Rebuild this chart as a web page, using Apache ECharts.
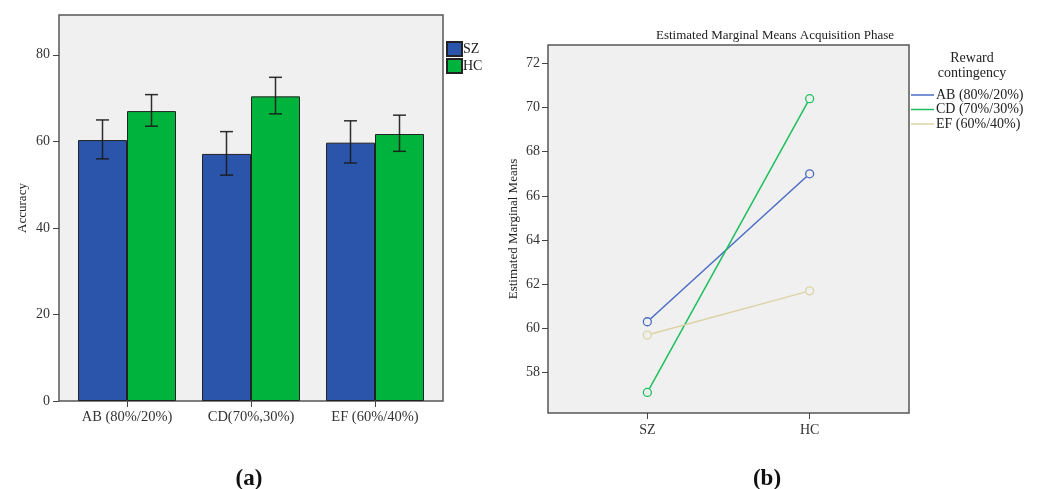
<!DOCTYPE html>
<html><head><meta charset="utf-8">
<script src="https://cdn.jsdelivr.net/npm/echarts@6/dist/echarts.min.js"></script>
<style>html,body{margin:0;padding:0;background:#fff}#c{width:1037px;height:489px}</style>
</head><body><div id="c"></div>
<script>
// ---------- data ----------
const barCategories = ['AB (80%/20%)', 'CD(70%,30%)', 'EF (60%/40%)'];
const szMeans = [60.3, 57.1, 59.7];
const hcMeans = [67.0, 70.4, 61.7];
const szErrLow = [55.95, 52.2, 55.0];
const szErrHigh = [64.95, 62.25, 64.75];
const hcErrLow = [63.5, 66.35, 57.7];
const hcErrHigh = [70.8, 74.8, 66.05];
const barTicks = [0, 20, 40, 60, 80];

const groups = ['SZ', 'HC'];
const abLine = [60.3, 67.0];
const cdLine = [57.1, 70.4];
const efLine = [59.7, 61.7];
const lineNames = ['AB (80%/20%)', 'CD (70%/30%)', 'EF (60%/40%)'];
const lineTicks = [58, 60, 62, 64, 66, 68, 70, 72];

// ---------- chart ----------
const FONT = 'Liberation Serif';
const chart = echarts.init(document.getElementById('c'), null, {renderer: 'canvas'});
const BW = 49;
function errSeries(name, low, high, off) {
  return {
    type: 'custom', name: name + '_err', xAxisIndex: 0, yAxisIndex: 0, z: 5,
    data: low.map((l, i) => [i, l, high[i]]),
    renderItem: function (params, api) {
      const c = api.value(0);
      const p1 = api.coord([c, api.value(1)]);
      const p2 = api.coord([c, api.value(2)]);
      const x = p1[0] + off, h = 6.5;
      const st = {stroke: '#1a1a1a', lineWidth: 1.5, opacity: 0.9};
      return {type: 'group', children: [
        {type: 'line', shape: {x1: x, y1: p1[1], x2: x, y2: p2[1]}, style: st},
        {type: 'line', shape: {x1: x - h, y1: p1[1], x2: x + h, y2: p1[1]}, style: st},
        {type: 'line', shape: {x1: x - h, y1: p2[1], x2: x + h, y2: p2[1]}, style: st}
      ]};
    }
  };
}
const lineColors = ['#4a6cc4', '#1dbf5c', '#dcd3a4'];
const option = {
  animation: false,
  backgroundColor: '#fff',
  textStyle: {fontFamily: FONT},
  title: [
    {text: 'Estimated Marginal Means Acquisition Phase', left: 770, top: 24, textAlign: 'center',
     textStyle: {fontFamily: FONT, fontSize: 13, fontWeight: 'normal', color: '#222'}},
    {text: 'Reward\ncontingency', left: 967, top: 46, textAlign: 'center',
     textStyle: {fontFamily: FONT, fontSize: 14, fontWeight: 'normal', color: '#222', lineHeight: 15}},
    {text: '(a)', left: 244, top: 463, textAlign: 'center',
     textStyle: {fontFamily: FONT, fontSize: 23, fontWeight: 'bold', color: '#111'}},
    {text: '(b)', left: 762, top: 463, textAlign: 'center',
     textStyle: {fontFamily: FONT, fontSize: 23, fontWeight: 'bold', color: '#111'}}
  ],
  graphic: [
    {type: 'rect', z: -10, shape: {x: 59, y: 15, width: 384, height: 386},
     style: {fill: '#f0f0f0', stroke: '#555', lineWidth: 1.5}}
  ],
  legend: [
    {data: ['SZ', 'HC'], orient: 'vertical', left: 441, top: 36, itemWidth: 15, itemHeight: 14, itemGap: 1,
     icon: 'rect', textStyle: {fontFamily: FONT, fontSize: 14, color: '#222', padding: [0, 0, 0, -4]}},
    {data: lineNames.map((n, k) => ({name: n, itemStyle: {color: lineColors[k], borderWidth: 0}})),
     orient: 'vertical', left: 906, top: 83, itemWidth: 23, itemHeight: 1.5, itemGap: 0.5,
     icon: 'rect',
     textStyle: {fontFamily: FONT, fontSize: 14, lineHeight: 14, color: '#222', padding: [0, 0, 0, -3]}}
  ],
  grid: [
    {left: 65, top: 15, width: 372, height: 386, show: false},
    {left: 548, top: 45, width: 361, height: 368, show: true, backgroundColor: '#f0f0f0',
     borderColor: '#555', borderWidth: 1.5}
  ],
  xAxis: [
    {type: 'category', gridIndex: 0, data: barCategories,
     axisLine: {show: false}, axisTick: {show: true, alignWithLabel: true, length: 6, lineStyle: {color: '#444'}},
     axisLabel: {fontFamily: FONT, fontSize: 14.5, color: '#333', margin: 9}},
    {type: 'value', gridIndex: 1, min: -0.612, max: 1.612,
     splitLine: {show: false}, axisLine: {show: false, onZero: false},
     axisTick: {show: true, customValues: [0, 1], length: 6, lineStyle: {color: '#444'}},
     axisLabel: {customValues: [0, 1], formatter: v => groups[Math.round(v)], fontFamily: FONT, fontSize: 14, color: '#333', margin: 10}}
  ],
  yAxis: [
    {type: 'value', gridIndex: 0, min: 0, max: 89.2, offset: 6,
     name: 'Accuracy', nameLocation: 'middle', nameGap: 30, nameRotate: 90,
     nameTextStyle: {fontFamily: FONT, fontSize: 13, color: '#222'},
     splitLine: {show: false}, axisLine: {show: false, onZero: false},
     axisTick: {show: true, customValues: barTicks, length: 6, lineStyle: {color: '#444'}},
     axisLabel: {customValues: barTicks, fontFamily: FONT, fontSize: 14, color: '#333', margin: 9}},
    {type: 'value', gridIndex: 1, min: 56.17, max: 72.83,
     name: 'Estimated Marginal Means', nameLocation: 'middle', nameGap: 28, nameRotate: 90,
     nameTextStyle: {fontFamily: FONT, fontSize: 13, color: '#222'},
     splitLine: {show: false}, axisLine: {show: false, onZero: false},
     axisTick: {show: true, customValues: lineTicks, length: 6, lineStyle: {color: '#444'}},
     axisLabel: {customValues: lineTicks, fontFamily: FONT, fontSize: 14, color: '#333', margin: 8}}
  ],
  series: [
    {name: 'SZ', type: 'bar', xAxisIndex: 0, yAxisIndex: 0, data: szMeans, barWidth: BW, barGap: '0%',
     itemStyle: {color: '#2a55ab', borderColor: '#222', borderWidth: 1}},
    {name: 'HC', type: 'bar', xAxisIndex: 0, yAxisIndex: 0, data: hcMeans, barWidth: BW, barGap: '0%',
     itemStyle: {color: '#00b33c', borderColor: '#222', borderWidth: 1}},
    errSeries('SZ', szErrLow, szErrHigh, -BW / 2),
    errSeries('HC', hcErrLow, hcErrHigh, BW / 2),
    ...[abLine, cdLine, efLine].map((d, k) => ({
      name: lineNames[k], type: 'line', xAxisIndex: 1, yAxisIndex: 1,
      data: d.map((v, i) => [i, v]),
      symbol: 'circle', symbolSize: 8, showSymbol: true,
      lineStyle: {color: lineColors[k], width: 1.5},
      itemStyle: {color: '#f0f0f0', borderColor: lineColors[k], borderWidth: 1.3}
    }))
  ]
};
chart.setOption(option);
</script></body></html>
